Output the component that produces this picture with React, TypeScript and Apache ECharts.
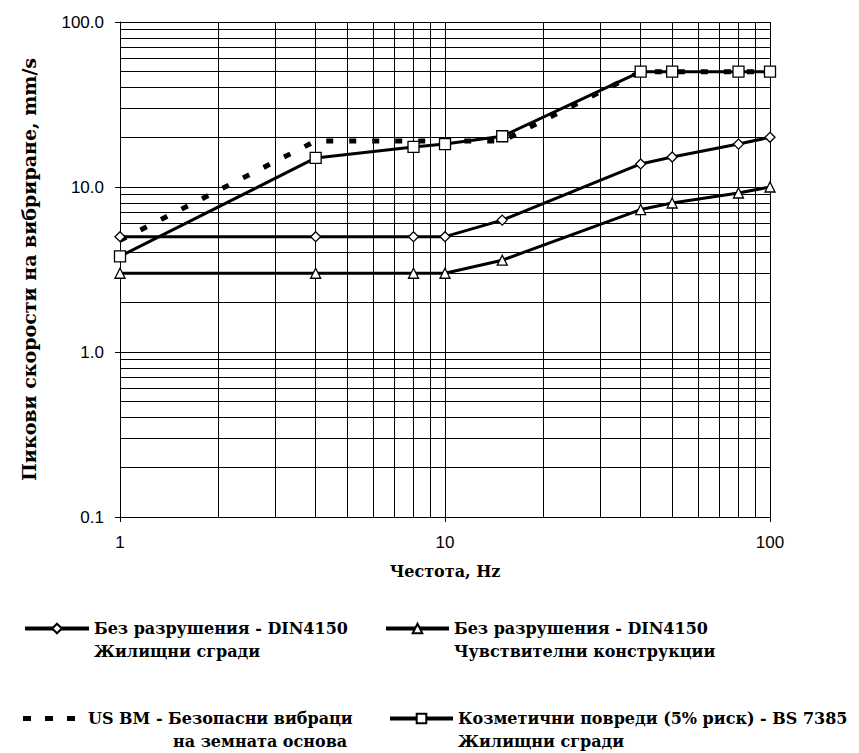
import React, { useEffect, useRef } from "react";
import * as echarts from "echarts";

// Frequencies (Hz) of the plotted points
const frequencies = [1, 4, 8, 10, 15, 40, 50, 80, 100];
// Peak particle velocity limits, mm/s
const dinResidential = [5, 5, 5, 5, 6.3, 13.8, 15.2, 18.2, 20];
const dinSensitive = [3, 3, 3, 3, 3.6, 7.3, 8, 9.2, 10];
const bsCosmetic = [3.8, 15, 17.5, 18.2, 20.3, 50, 50, 50, 50];
const usbmFrequencies = [1, 4, 15, 40, 100];
const usbmValues = [4.75, 19, 19, 50, 50];

// Minor log grid lines
const xMinorGrid = [2, 3, 4, 5, 6, 7, 8, 9, 20, 30, 40, 50, 60, 70, 80, 90];
const yMinorGrid = [
  0.2, 0.3, 0.4, 0.5, 0.6, 0.7, 0.8, 0.9,
  2, 3, 4, 5, 6, 7, 8, 9,
  20, 30, 40, 50, 60, 70, 80, 90,
];

const legendLines = [
  ["Без разрушения - DIN4150", "Жилищни сгради"],
  ["Без разрушения - DIN4150", "Чувствителни конструкции"],
  ["US BM - Безопасни вибраци", "на земната основа"],
  ["Козметични повреди (5% риск) - BS 7385", "Жилищни сгради"],
];

const xAxisTitle = "Честота, Hz";
const yAxisTitle = "Пикови скорости на вибриране, mm/s";

const seriesNames = legendLines.map((l) => l[0] + " " + l[1]);

const serifFont = "'DejaVu Serif', serif";
const sansFont = "'Liberation Sans', Arial, sans-serif";

function pairs(xs: number[], ys: number[]) {
  return xs.map((x, i) => [x, ys[i]]);
}

export default function App() {
  const ref = useRef<HTMLDivElement>(null);

  useEffect(() => {
    const chart = echarts.init(ref.current!, null, { renderer: "svg" });

    const legendLayout = [
      { left: 18, top: 589, itemWidth: 64, itemHeight: 12, padLeft: 0 },
      { left: 379, top: 589, itemWidth: 63, itemHeight: 12, padLeft: 0 },
      { left: 18, top: 679, itemWidth: 52, itemHeight: 5, padLeft: 8 },
      { left: 383, top: 679, itemWidth: 63, itemHeight: 12, padLeft: 0 },
    ];

    const richBase = { fontFamily: serifFont, fontWeight: "bold", fontSize: 16, lineHeight: 23, color: "#000" };

    const legends = seriesNames.map((name, i) => ({
      data: [
        i === 2
          ? { name, icon: "path://M0,0h8v5h-8z M22,0h8v5h-8z M44,0h8v5h-8z" }
          : { name },
      ],
      left: legendLayout[i].left,
      top: legendLayout[i].top,
      orient: "horizontal",
      itemWidth: legendLayout[i].itemWidth,
      itemHeight: legendLayout[i].itemHeight,
      selectedMode: false,
      lineStyle: { width: 4 },
      formatter: () => {
        const [a, b] = legendLines[i];
        return i === 2 ? `{a|${a}}\n{c|${b}}` : `{a|${a}}\n{b|${b}}`;
      },
      textStyle: {
        color: "#000",
        fontFamily: serifFont,
        fontWeight: "bold",
        fontSize: 16,
        lineHeight: 23,
        padding: [23, 0, 0, legendLayout[i].padLeft],
        rich: {
          a: { ...richBase },
          b: { ...richBase },
          c: { ...richBase, padding: [0, 0, 0, 85] },
        },
      },
    }));

    const markerStyle = { color: "#fff", borderColor: "#000", borderWidth: 1.3 };

    chart.setOption({
      animation: false,
      backgroundColor: "#fff",
      grid: { left: 120, right: 89, top: 22, bottom: 236, containLabel: false },
      legend: legends,
      xAxis: {
        type: "log",
        logBase: 10,
        min: 1,
        max: 100,
        name: xAxisTitle,
        nameLocation: "middle",
        nameGap: 46,
        nameTextStyle: { color: "#000", fontFamily: serifFont, fontWeight: "bold", fontSize: 16 },
        axisLine: { show: true, lineStyle: { color: "#000", width: 1 } },
        axisTick: { show: true, length: 5, lineStyle: { color: "#000" } },
        axisLabel: { color: "#000", fontFamily: sansFont, fontSize: 17, margin: 17 },
        splitLine: { show: true, lineStyle: { color: "#000", width: 1 } },
        minorTick: { show: false },
      },
      yAxis: {
        type: "log",
        logBase: 10,
        min: 0.1,
        max: 100,
        name: yAxisTitle,
        nameLocation: "middle",
        nameGap: 82,
        nameTextStyle: { color: "#000", fontFamily: serifFont, fontWeight: "bold", fontSize: 19 },
        axisLine: { show: true, lineStyle: { color: "#000", width: 1 } },
        axisTick: { show: true, length: 5, lineStyle: { color: "#000" } },
        axisLabel: {
          color: "#000",
          fontFamily: sansFont,
          fontSize: 17,
          margin: 16,
          formatter: (v: number) => Number(v).toFixed(1),
        },
        splitLine: { show: true, lineStyle: { color: "#000", width: 1 } },
      },
      series: [
        {
          name: "grid",
          type: "line",
          data: [],
          silent: true,
          markLine: {
            silent: true,
            symbol: "none",
            z: 1,
            label: { show: false },
            lineStyle: { color: "#000", width: 1, type: "solid" },
            emphasis: { disabled: true },
            data: [
              ...xMinorGrid.map((v) => ({ xAxis: v })),
              ...yMinorGrid.map((v) => ({ yAxis: v })),
            ],
          },
        },
        {
          name: seriesNames[0],
          type: "line",
          data: pairs(frequencies, dinResidential),
          symbol: "diamond",
          symbolSize: 10,
          showAllSymbol: true,
          lineStyle: { color: "#000", width: 3 },
          itemStyle: markerStyle,
          z: 3,
        },
        {
          name: seriesNames[1],
          type: "line",
          data: pairs(frequencies, dinSensitive),
          symbol: "triangle",
          symbolSize: 10,
          showAllSymbol: true,
          lineStyle: { color: "#000", width: 3 },
          itemStyle: markerStyle,
          z: 3,
        },
        {
          name: seriesNames[2],
          type: "line",
          data: pairs(usbmFrequencies, usbmValues),
          symbol: "none",
          lineStyle: { color: "#000", width: 5, type: [7, 16] },
          itemStyle: { color: "#000" },
          z: 2,
        },
        {
          name: seriesNames[3],
          type: "line",
          data: pairs(frequencies, bsCosmetic),
          symbol: "rect",
          symbolSize: 11,
          showAllSymbol: true,
          lineStyle: { color: "#000", width: 3 },
          itemStyle: markerStyle,
          z: 3,
        },
      ],
    });

    return () => chart.dispose();
  }, []);

  return (
    <div
      ref={ref}
      style={{ position: "fixed", left: 0, top: 0, width: 859, height: 753, background: "#fff" }}
    />
  );
}
